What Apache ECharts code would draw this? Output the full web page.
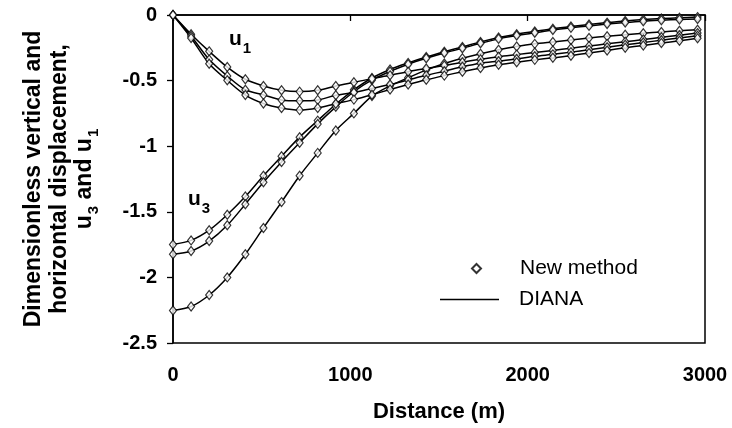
<!DOCTYPE html>
<html>
<head>
<meta charset="utf-8">
<script src="https://cdn.jsdelivr.net/npm/echarts@6/dist/echarts.min.js"></script>
<style>
  html, body { margin: 0; padding: 0; background: #fff; }
  #chart { width: 732px; height: 428px; }
</style>
</head>
<body>
<div id="chart"></div>
<script>
// distance along the section (m), one point per marker
var dist = [0, 102, 204, 306, 408, 510, 612, 714, 816, 918, 1020, 1122, 1224, 1326, 1428,
  1530, 1632, 1734, 1836, 1938, 2040, 2142, 2244, 2346, 2448, 2550, 2652, 2754, 2856, 2958];

// vertical displacement u3 (three cases)
var u3a = [-1.749, -1.718, -1.64, -1.522, -1.384, -1.225, -1.077, -0.931, -0.805, -0.68, -0.57, -0.48, -0.415, -0.365, -0.32,
  -0.28, -0.243, -0.205, -0.172, -0.146, -0.125, -0.104, -0.087, -0.072, -0.058, -0.045, -0.035, -0.027, -0.021, -0.016];
var u3b = [-1.824, -1.799, -1.723, -1.603, -1.442, -1.275, -1.12, -0.974, -0.83, -0.70, -0.585, -0.495, -0.43, -0.375, -0.33,
  -0.29, -0.254, -0.216, -0.182, -0.157, -0.136, -0.115, -0.098, -0.083, -0.069, -0.057, -0.047, -0.04, -0.034, -0.03];
var u3c = [-2.252, -2.222, -2.134, -2.0, -1.824, -1.623, -1.426, -1.225, -1.051, -0.88, -0.75, -0.618, -0.54, -0.478, -0.42,
  -0.37, -0.33, -0.295, -0.265, -0.24, -0.22, -0.205, -0.19, -0.175, -0.162, -0.15, -0.139, -0.129, -0.12, -0.112];

// horizontal displacement u1 (three cases)
var u1a = [0, -0.146, -0.277, -0.397, -0.49, -0.541, -0.574, -0.584, -0.574, -0.541, -0.513, -0.485, -0.46, -0.432, -0.408,
  -0.385, -0.36, -0.338, -0.318, -0.302, -0.286, -0.27, -0.253, -0.236, -0.22, -0.204, -0.187, -0.17, -0.154, -0.138];
var u1b = [0, -0.16, -0.34, -0.465, -0.57, -0.609, -0.647, -0.654, -0.647, -0.612, -0.59, -0.56, -0.53, -0.495, -0.46,
  -0.428, -0.395, -0.368, -0.352, -0.335, -0.315, -0.3, -0.283, -0.264, -0.245, -0.227, -0.21, -0.192, -0.175, -0.158];
var u1c = [0, -0.175, -0.372, -0.498, -0.61, -0.674, -0.709, -0.725, -0.709, -0.676, -0.645, -0.608, -0.568, -0.53, -0.494,
  -0.462, -0.432, -0.404, -0.38, -0.36, -0.342, -0.326, -0.31, -0.289, -0.27, -0.25, -0.232, -0.214, -0.196, -0.178];

var xTicks = [0, 1000, 2000, 3000];
var yTicks = [0, -0.5, -1, -1.5, -2, -2.5];

var font = 'Liberation Sans, Arial, sans-serif';
var curves = [u3a, u3b, u3c, u1a, u1b, u1c];

function pairs(ys) {
  return dist.map(function (d, i) { return [d, ys[i]]; });
}

var series = [];
curves.forEach(function (ys) {
  series.push({
    name: 'DIANA',
    type: 'line',
    data: pairs(ys),
    showSymbol: false,
    smooth: 0.3,
    color: '#000',
    lineStyle: { color: '#000', width: 1.5 },
    z: 2
  });
});
curves.forEach(function (ys) {
  series.push({
    name: 'New method',
    type: 'scatter',
    data: pairs(ys),
    symbol: 'diamond',
    symbolSize: [7, 9],
    itemStyle: { color: '#fff', borderColor: '#000', borderWidth: 1.2 },
    z: 3
  });
});

var chart = echarts.init(document.getElementById('chart'), null, { renderer: 'canvas' });

var option = {
  backgroundColor: '#fff',
  animation: false,
  grid: {
    left: 173, right: 27, top: 15, bottom: 82,
    show: true, borderColor: '#000', borderWidth: 1.5
  },
  legend: [{
    data: ['New method'],
    left: 471, top: 258,
    padding: 0,
    itemWidth: 9, itemHeight: 9,
    selectedMode: false,
    textStyle: { fontSize: 21, fontFamily: font, color: '#000', padding: [0, 0, 0, 34] }
  }, {
    data: [{ name: 'DIANA', icon: 'rect' }],
    left: 440, top: 289,
    padding: 0,
    itemWidth: 59, itemHeight: 1.5,
    selectedMode: false,
    textStyle: { fontSize: 21, fontFamily: font, color: '#000', padding: [0, 0, 0, 15] }
  }],
  xAxis: {
    type: 'value',
    min: xTicks[0], max: xTicks[xTicks.length - 1], interval: 1000,
    name: 'Distance (m)',
    nameLocation: 'middle',
    nameGap: 58,
    nameTextStyle: { fontSize: 22, fontWeight: 'bold', fontFamily: font, color: '#000' },
    axisLine: { lineStyle: { color: '#000', width: 1.5 } },
    axisTick: { length: 6, lineStyle: { color: '#000', width: 1.3 } },
    axisLabel: {
      fontSize: 20, fontWeight: 'bold', fontFamily: font, color: '#000', margin: 22,
      formatter: function (v) { return String(v); }
    },
    splitLine: { show: false }
  },
  yAxis: {
    type: 'value',
    min: yTicks[yTicks.length - 1], max: yTicks[0], interval: 0.5,
    name: 'Dimensionless vertical and\nhorizontal displacement,\n{m|u}{s|3}{m| and u}{s|1}',
    nameLocation: 'middle',
    nameRotate: 90,
    nameGap: 74,
    nameTextStyle: {
      fontSize: 23, fontWeight: 'bold', fontFamily: font, color: '#000', lineHeight: 26,
      rich: {
        m: { fontSize: 23, fontWeight: 'bold', fontFamily: font, color: '#000', lineHeight: 26, verticalAlign: 'top' },
        s: { fontSize: 15, fontWeight: 'bold', fontFamily: font, color: '#000', lineHeight: 15, verticalAlign: 'top', padding: [13, 0, 0, 1] }
      }
    },
    axisLine: { lineStyle: { color: '#000', width: 1.5 } },
    axisTick: { length: 6, lineStyle: { color: '#000', width: 1.3 } },
    axisLabel: { fontSize: 20, fontWeight: 'bold', fontFamily: font, color: '#000', margin: 16 },
    splitLine: { show: false }
  },
  graphic: [{
    type: 'text', left: 229, top: 29, z: 10,
    style: {
      text: '{m|u}{s|1}',
      rich: {
        m: { fontSize: 21, fontWeight: 'bold', fontFamily: font, fill: '#000', lineHeight: 24, verticalAlign: 'top' },
        s: { fontSize: 15, fontWeight: 'bold', fontFamily: font, fill: '#000', lineHeight: 15, verticalAlign: 'top', padding: [12, 0, 0, 1] }
      }
    }
  }, {
    type: 'text', left: 188, top: 189, z: 10,
    style: {
      text: '{m|u}{s|3}',
      rich: {
        m: { fontSize: 21, fontWeight: 'bold', fontFamily: font, fill: '#000', lineHeight: 24, verticalAlign: 'top' },
        s: { fontSize: 15, fontWeight: 'bold', fontFamily: font, fill: '#000', lineHeight: 15, verticalAlign: 'top', padding: [12, 0, 0, 1] }
      }
    }
  }],
  series: series
};

chart.setOption(option);
</script>
</body>
</html>
